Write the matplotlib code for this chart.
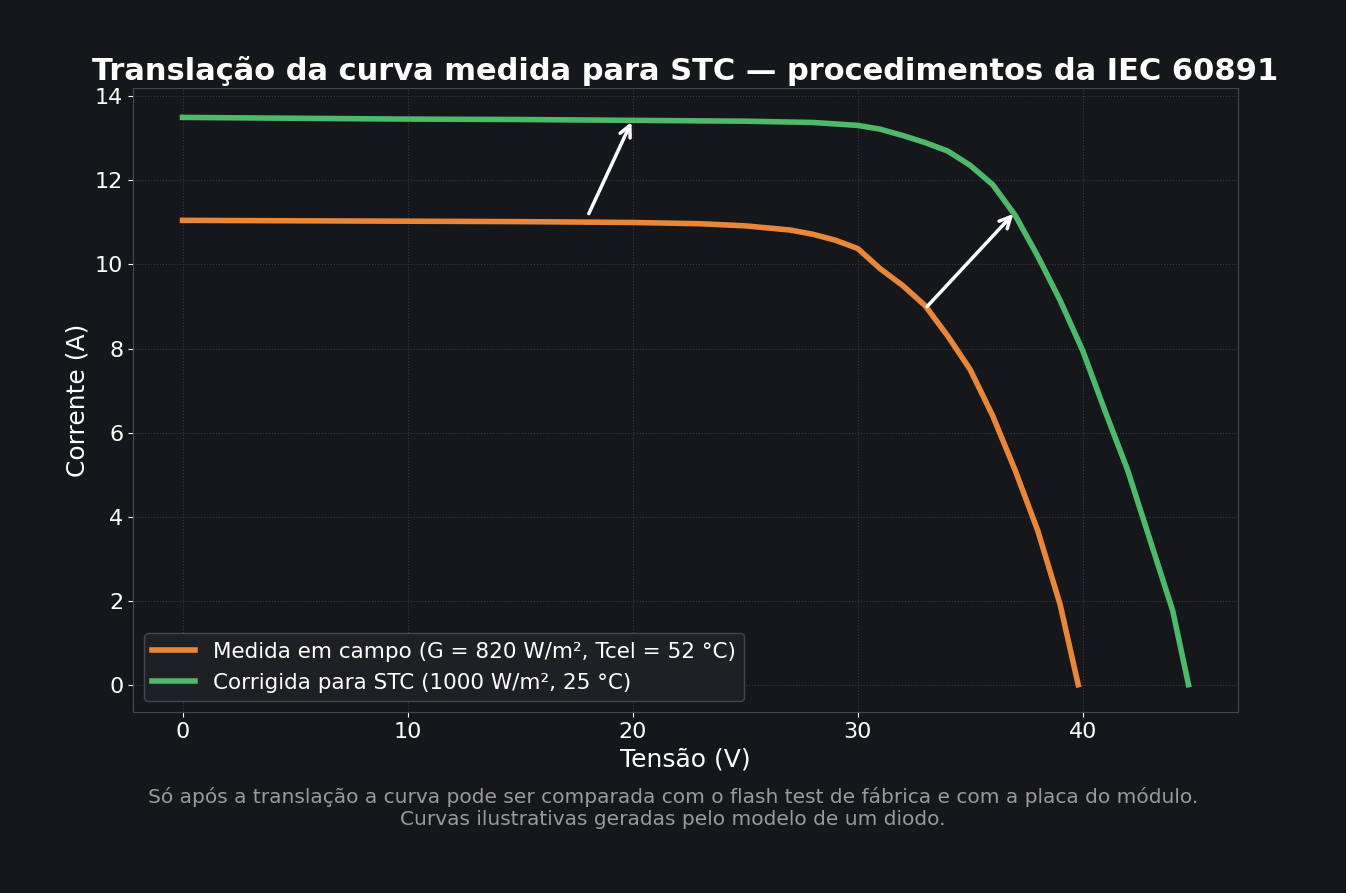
import matplotlib
matplotlib.use("Agg")
import matplotlib.pyplot as plt

v_med = [0, 5, 10, 15, 20, 23, 25, 27, 28, 29, 30, 31, 32, 33, 34, 35, 36, 37, 38, 39, 39.8]
i_med = [11.05, 11.04, 11.03, 11.02, 11.0, 10.97, 10.92, 10.82, 10.72, 10.58, 10.38, 9.9, 9.5, 9.02, 8.3, 7.5, 6.4, 5.1, 3.67, 1.9, 0.0]
v_stc = [0, 5, 10, 15, 20, 25, 28, 30, 31, 32, 33, 34, 35, 36, 37, 38, 39, 40, 41, 42, 43, 44, 44.7]
i_stc = [13.5, 13.48, 13.46, 13.45, 13.43, 13.41, 13.38, 13.31, 13.22, 13.07, 12.9, 12.7, 12.36, 11.9, 11.17, 10.2, 9.14, 7.95, 6.5, 5.1, 3.43, 1.76, 0.0]
arrows = [((18, 11.15), (20, 13.45)), ((33, 8.95), (37, 11.25))]
lab_med = "Medida em campo (G = 820 W/m², Tcel = 52 °C)"
lab_stc = "Corrigida para STC (1000 W/m², 25 °C)"

bg = "#15171a"
fig = plt.figure(figsize=(13.46, 8.93), dpi=100, facecolor=bg)
ax = fig.add_axes([133/1346, 1-712/893, (1238-133)/1346, (712-88)/893], facecolor=bg)
ax.plot(v_med, i_med, color="#e8873a", lw=4, label=lab_med)
ax.plot(v_stc, i_stc, color="#4cba6a", lw=4, label=lab_stc)
for s, e in arrows:
    ax.annotate("", xy=e, xytext=s, arrowprops=dict(arrowstyle="->", color="white", lw=2.5, mutation_scale=20))
ax.set_xlim(-2.2, 46.9)
ax.set_ylim(-0.65, 14.2)
ax.set_yticks(range(0, 15, 2))
ax.grid(True, color="#3a3c40", ls=":", lw=0.8)
for sp in ax.spines.values():
    sp.set_color("#45474b")
ax.tick_params(colors="white", labelsize=16)
ax.set_xlabel("Tensão (V)", color="white", fontsize=18)
ax.set_ylabel("Corrente (A)", color="white", fontsize=18)
ax.set_title("Translação da curva medida para STC — procedimentos da IEC 60891", color="white", fontsize=22, fontweight="bold", pad=6)
leg = ax.legend(loc="lower left", fontsize=15.5, facecolor="#1f2024", edgecolor="#45474b", labelcolor="white", framealpha=1)
fig.text(0.5, 1-808/893, "Só após a translação a curva pode ser comparada com o flash test de fábrica e com a placa do módulo.\nCurvas ilustrativas geradas pelo modelo de um diodo.",
         ha="center", va="center", color="#9a9a9a", fontsize=14.5)
fig.savefig("out.png", dpi=100, facecolor=bg)
